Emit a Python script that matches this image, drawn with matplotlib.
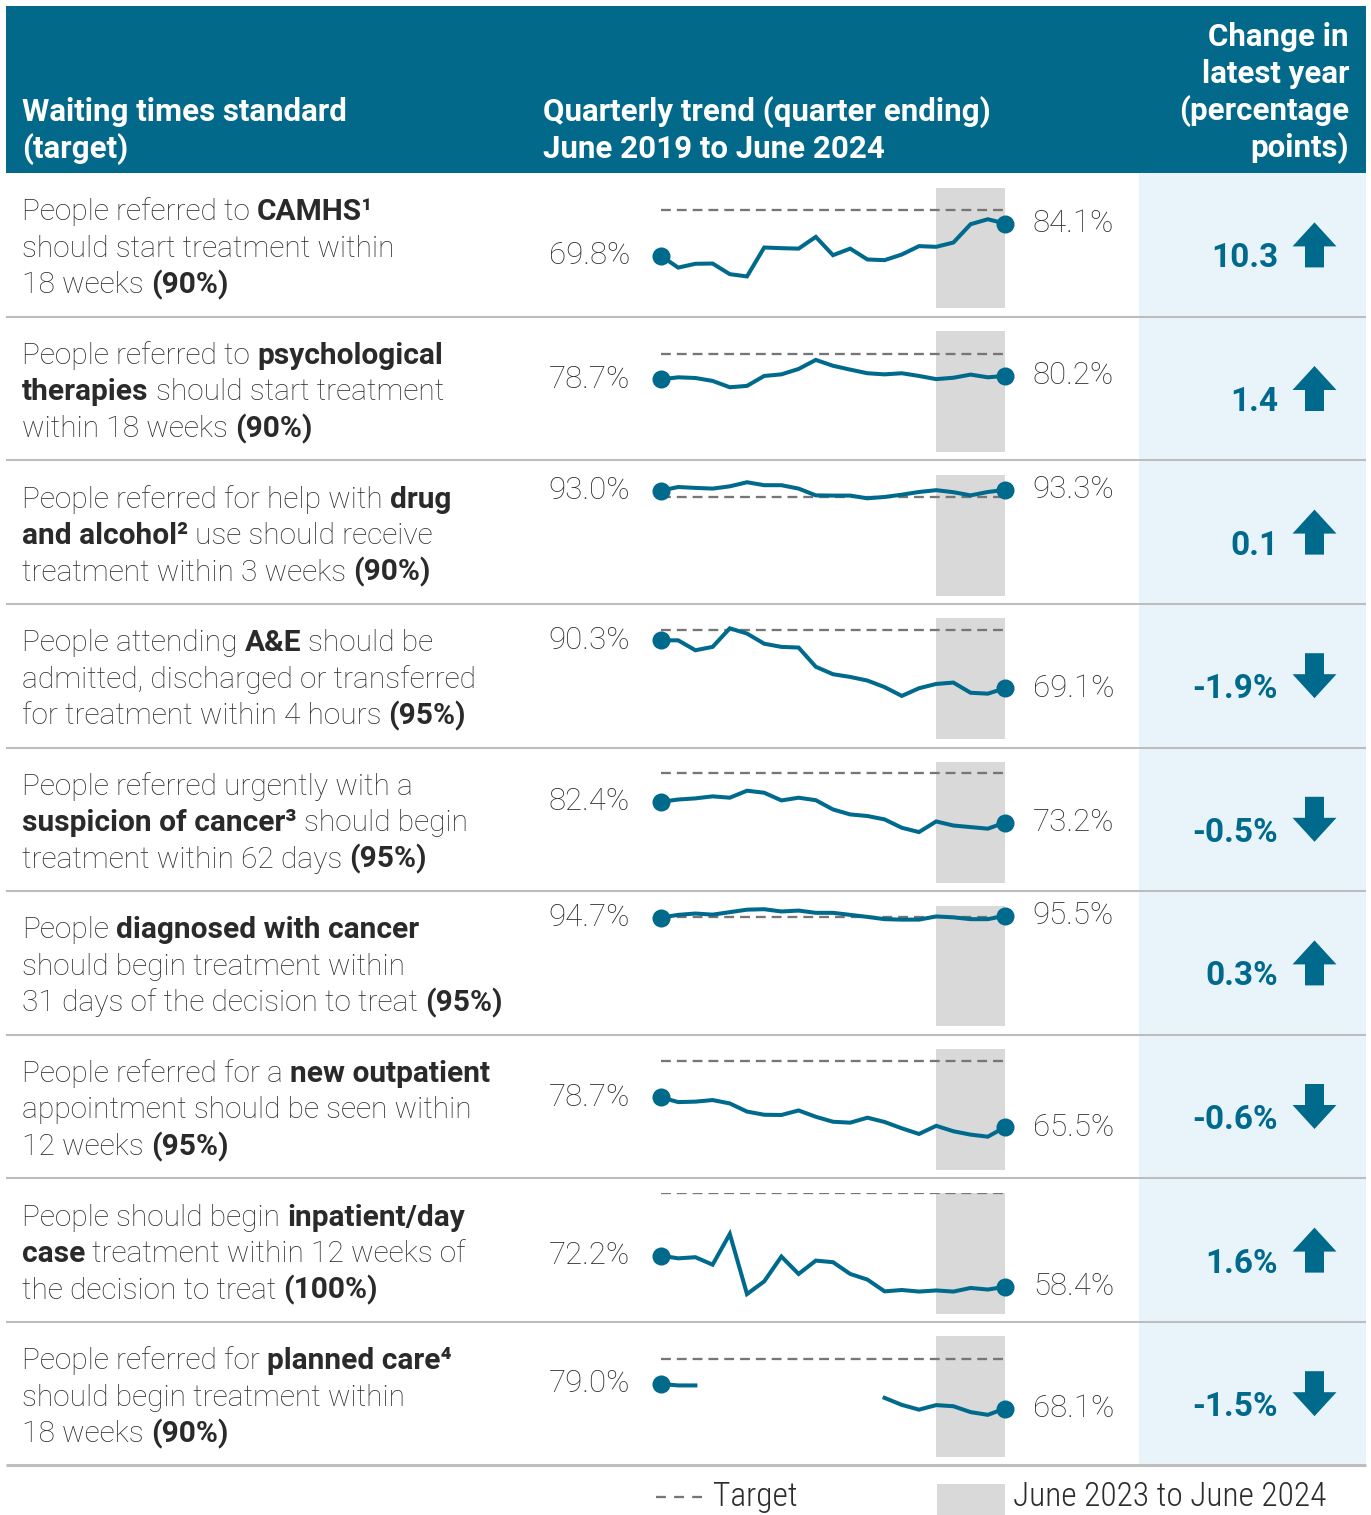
import numpy as np
import matplotlib
matplotlib.use("Agg")
import matplotlib.pyplot as plt
from matplotlib import font_manager
from matplotlib.patches import Polygon, Rectangle

W, H = 1371, 1515
TEAL = "#02698b"
LINE = "#006a8d"
PALE = "#e9f4fa"
SHADE = "#d9d9d9"
DASH = "#767676"
TXT = "#2c2c2c"
BOLDTXT = "#2a2a2a"

quarters = ["Jun 2019", "Sep 2019", "Dec 2019", "Mar 2020", "Jun 2020", "Sep 2020",
            "Dec 2020", "Mar 2021", "Jun 2021", "Sep 2021", "Dec 2021", "Mar 2022",
            "Jun 2022", "Sep 2022", "Dec 2022", "Mar 2023", "Jun 2023", "Sep 2023",
            "Dec 2023", "Mar 2024", "Jun 2024"]

camhs = [69.8, 64.6, 66.3, 66.4, 61.7, 60.7, 73.5, 73.2, 73.0, 78.2, 70.1, 73.0,
         68.2, 67.9, 70.4, 74.1, 73.8, 75.7, 83.8, 86.0, 84.1]
psych = [78.7, 79.6, 79.3, 78.0, 75.2, 75.8, 80.2, 80.9, 83.3, 87.3, 84.7, 83.0,
         81.4, 80.9, 81.4, 80.2, 78.8, 79.4, 80.8, 79.6, 80.2]
drug_alcohol = [93.0, 94.6, 94.2, 93.9, 94.9, 96.7, 95.4, 95.4, 93.9, 90.9, 90.8, 90.8,
                89.6, 90.2, 91.2, 92.4, 93.2, 92.3, 90.9, 92.4, 93.3]
ae = [90.3, 90.3, 85.9, 87.4, 95.6, 93.3, 88.8, 87.4, 87.1, 78.6, 75.3, 74.1,
      72.5, 69.6, 65.7, 69.1, 71.0, 71.6, 67.1, 66.7, 69.1]
cancer_62 = [82.4, 83.4, 83.9, 84.8, 84.2, 87.3, 86.4, 83.0, 84.2, 83.1, 79.0, 76.8,
             76.1, 74.6, 70.9, 69.0, 73.7, 71.9, 71.2, 70.5, 73.2]
cancer_31 = [94.7, 95.9, 96.5, 96.0, 97.1, 98.2, 98.4, 97.4, 97.8, 96.8, 96.8, 95.9,
             95.0, 94.0, 93.8, 93.8, 95.2, 94.8, 94.0, 94.0, 95.5]
outpatient = [78.7, 76.6, 76.8, 77.5, 76.0, 72.4, 71.0, 70.9, 72.9, 70.1, 67.9, 67.5,
              69.7, 67.8, 65.0, 62.5, 66.1, 63.7, 62.2, 61.3, 65.5]
inpatient = [72.2, 71.0, 71.5, 68.2, 81.8, 55.2, 60.8, 71.8, 64.1, 70.0, 69.3, 64.1,
             61.6, 56.4, 57.0, 56.3, 56.8, 56.3, 57.9, 57.2, 58.4]
planned = [79.0, 78.3, 78.3, None, None, None, None, None, None, None, None, None,
           None, 72.8, 69.7, 67.6, 69.6, 69.1, 66.5, 65.3, 68.1]

series = [camhs, psych, drug_alcohol, ae, cancer_62, cancer_31, outpatient, inpatient, planned]
targets = [90, 90, 90, 95, 95, 95, 95, 100, 90]
changes = [10.3, 1.4, 0.1, -1.9, -0.5, 0.3, -0.6, 1.6, -1.5]
change_labels = ["10.3", "1.4", "0.1", "-1.9%", "-0.5%", "0.3%", "-0.6%", "1.6%", "-1.5%"]
latest_year = ("Jun 2023", "Jun 2024")

standards = [
    [[("People referred to ", 0), ("CAMHS\u00b9", 1)],
     [("should start treatment within", 0)],
     [("18 weeks ", 0), ("(90%)", 1)]],
    [[("People referred to ", 0), ("psychological", 1)],
     [("therapies", 1), (" should start treatment", 0)],
     [("within 18 weeks ", 0), ("(90%)", 1)]],
    [[("People referred for help with ", 0), ("drug", 1)],
     [("and alcohol\u00b2", 1), (" use should receive", 0)],
     [("treatment within 3 weeks ", 0), ("(90%)", 1)]],
    [[("People attending ", 0), ("A&E", 1), (" should be", 0)],
     [("admitted, discharged or transferred", 0)],
     [("for treatment within 4 hours ", 0), ("(95%)", 1)]],
    [[("People referred urgently with a", 0)],
     [("suspicion of cancer\u00b3", 1), (" should begin", 0)],
     [("treatment within 62 days ", 0), ("(95%)", 1)]],
    [[("People ", 0), ("diagnosed with cancer", 1)],
     [("should begin treatment within", 0)],
     [("31 days of the decision to treat ", 0), ("(95%)", 1)]],
    [[("People referred for a ", 0), ("new outpatient", 1)],
     [("appointment should be seen within", 0)],
     [("12 weeks ", 0), ("(95%)", 1)]],
    [[("People should begin ", 0), ("inpatient/day", 1)],
     [("case", 1), (" treatment within 12 weeks of", 0)],
     [("the decision to treat ", 0), ("(100%)", 1)]],
    [[("People referred for ", 0), ("planned care\u2074", 1)],
     [("should begin treatment within", 0)],
     [("18 weeks ", 0), ("(90%)", 1)]],
]

names = {f.name for f in font_manager.fontManager.ttflist}
NARROW = "Roboto Condensed" if "Roboto Condensed" in names else "Roboto"
BODY = ["Roboto", "DejaVu Sans"]

fig = plt.figure(figsize=(W / 100, H / 100), dpi=100)
bg = fig.add_axes([0, 0, 1, 1])
bg.set_xlim(0, W)
bg.set_ylim(H, 0)
bg.axis("off")
renderer = fig.canvas.get_renderer()

ROW_TOP = 173.1
ROW_H = 143.6
n_rows = len(series)
SPARK_L, SPARK_R = 661, 1005
X_LEFT, X_RIGHT = 6, 1366
PALE_L = 1139

# header band and pale change column
bg.add_patch(Rectangle((X_LEFT, 6), X_RIGHT - X_LEFT, ROW_TOP - 6, color=TEAL, lw=0))
bg.add_patch(Rectangle((PALE_L, ROW_TOP), X_RIGHT - PALE_L, n_rows * ROW_H, color=PALE, lw=0))

hkw = dict(color="white", fontsize=22.5, fontweight="bold", family=BODY, va="baseline")
bg.text(22, 121, "Waiting times standard", **hkw)
bg.text(22, 158, "(target)", **hkw)
bg.text(543, 121, "Quarterly trend (quarter ending)", **hkw)
bg.text(543, 158, "June 2019 to June 2024", **hkw)
for i, s in enumerate(["Change in", "latest year", "(percentage", "points)"]):
    bg.text(1349, 46 + i * 37, s, ha="right", **hkw)


BODY_SIZE = 21.5
PCT_SIZE = 22.5


def space_width(weight, size):
    a = bg.text(0, -100, "a a", fontsize=size, fontweight=weight, family=BODY)
    b = bg.text(0, -100, "aa", fontsize=size, fontweight=weight, family=BODY)
    w = a.get_window_extent(renderer).width - b.get_window_extent(renderer).width
    a.remove()
    b.remove()
    return w


spaces = {"light": space_width("light", BODY_SIZE), "bold": space_width("bold", BODY_SIZE)}


def rich_line(x, y, segs):
    for text, bold in segs:
        weight = "bold" if bold else "light"
        lead = len(text) - len(text.lstrip(" "))
        trail = len(text) - len(text.rstrip(" "))
        x += lead * spaces[weight]
        t = bg.text(x, y, text.strip(" "), fontsize=BODY_SIZE, fontweight=weight,
                    family=BODY, color=BOLDTXT if bold else TXT, va="baseline")
        x = t.get_window_extent(renderer).x1 + trail * spaces[weight]


def arrow(cx, cy, up, w=44, h=45, head=24, shaft=19):
    s = -1 if up else 1
    tip = cy + s * h / 2
    base = cy - s * h / 2
    neck = tip - s * head
    pts = [(cx, tip), (cx + w / 2, neck), (cx + shaft / 2, neck), (cx + shaft / 2, base),
           (cx - shaft / 2, base), (cx - shaft / 2, neck), (cx - w / 2, neck)]
    bg.add_patch(Polygon(pts, closed=True, color=LINE, lw=0))


x = np.arange(len(quarters))
lo = quarters.index(latest_year[0])
hi = quarters.index(latest_year[1])

for r in range(n_rows):
    top = ROW_TOP + r * ROW_H
    cy = top + ROW_H / 2
    # separators
    bg.plot([X_LEFT, X_RIGHT], [top + ROW_H, top + ROW_H], color="#bdbdbd",
            lw=2.2 if r == n_rows - 1 else 1.5, solid_capstyle="butt")

    for k, segs in enumerate(standards[r]):
        rich_line(22, cy - 24.5 + k * 36.5, segs)

    # sparkline
    a_top = top + 14.5
    a_h = 120.7
    ax = fig.add_axes([SPARK_L / W, (H - a_top - a_h) / H, (SPARK_R - SPARK_L) / W, a_h / H])
    ax.set_xlim(0, len(quarters) - 1)
    ax.set_ylim(46.6, 100)
    ax.axis("off")
    ax.axvspan(lo, hi, color=SHADE, lw=0, zorder=0)
    ax.axhline(targets[r], color=DASH, lw=1.65, dashes=(4.3, 2.6), zorder=1)
    vals = np.array([np.nan if v is None else v for v in series[r]], dtype=float)
    ax.plot(x, vals, color=LINE, lw=2.9, solid_joinstyle="miter", zorder=2, clip_on=False)
    ax.plot([x[0], x[-1]], [vals[0], vals[-1]], "o", color=LINE, ms=13, mew=0,
            zorder=3, clip_on=False)
    ax.annotate(f"{vals[0]:.1f}%", (x[0], vals[0]), xytext=(-22.3, 0),
                textcoords="offset points", ha="right", va="center",
                fontsize=PCT_SIZE, fontweight="light", family=BODY, color=TXT,
                annotation_clip=False)
    ax.annotate(f"{vals[-1]:.1f}%", (x[-1], vals[-1]), xytext=(20, 0),
                textcoords="offset points", ha="left", va="center",
                fontsize=PCT_SIZE, fontweight="light", family=BODY, color=TXT,
                annotation_clip=False)

    # change in latest year
    bg.text(1278, cy + 22.5, change_labels[r], ha="right", va="baseline",
            fontsize=24, fontweight="bold", family=BODY, color=LINE)
    arrow(1314.5, cy, changes[r] > 0)

# legend
bg.plot([656, 705], [1497, 1497], color=DASH, lw=1.65, dashes=(4.3, 3.6))
bg.text(713, 1506, "Target", fontsize=24, fontweight="light", family=NARROW,
        color=TXT, va="baseline")
bg.add_patch(Rectangle((937, 1484), 68, 40, color=SHADE, lw=0))
bg.text(1013, 1506, "June 2023 to June 2024", fontsize=24, fontweight="light",
        family=NARROW, color=TXT, va="baseline")

fig.savefig("out.png", dpi=100)
